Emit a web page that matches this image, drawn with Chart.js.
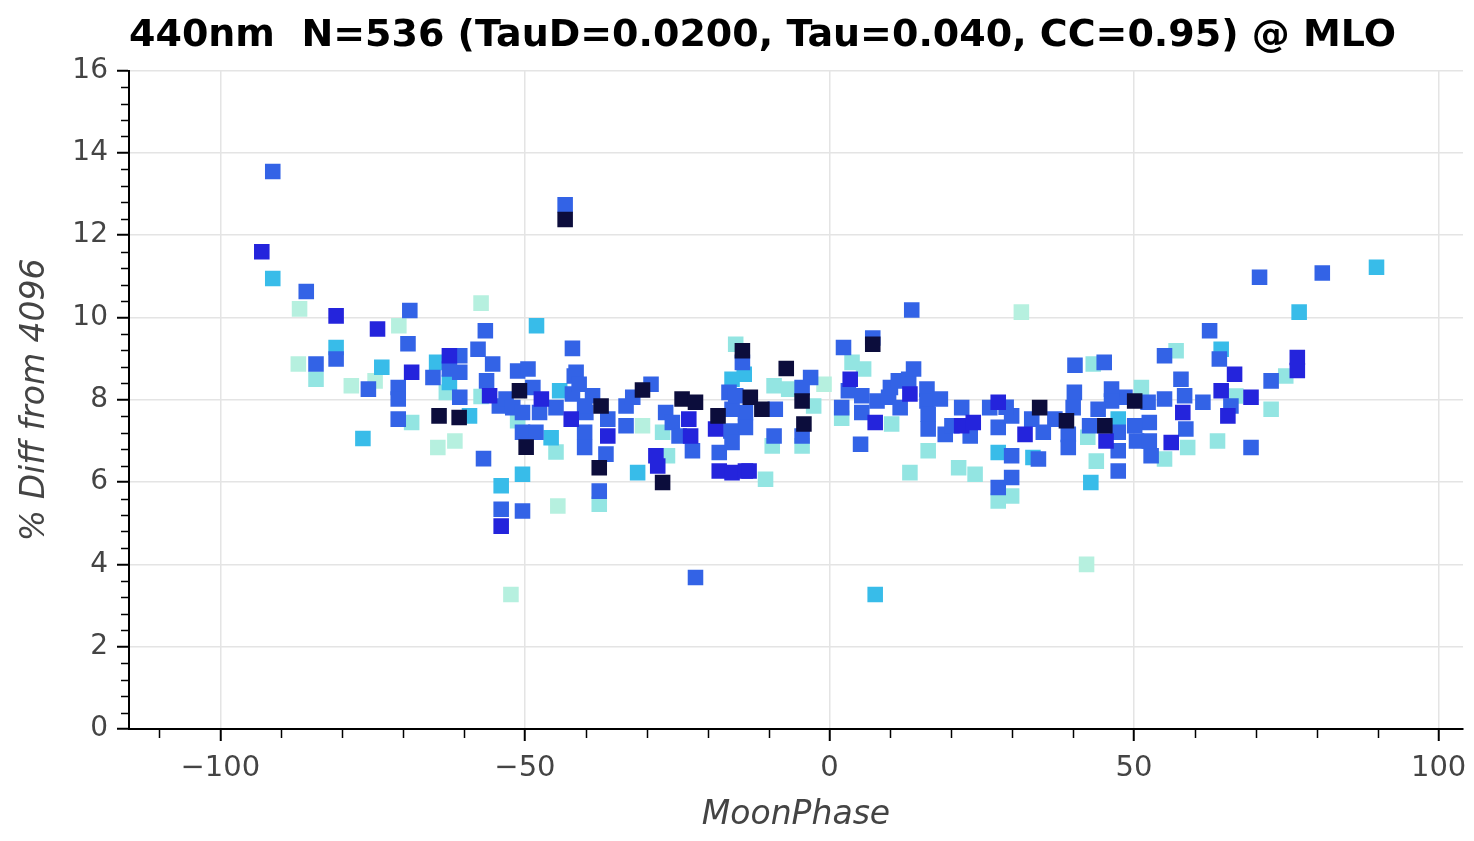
<!DOCTYPE html>
<html>
<head>
<meta charset="utf-8">
<script src="https://cdn.jsdelivr.net/npm/chart.js@4.4.1/dist/chart.umd.min.js"></script>
<style>
    html, body { margin: 0; padding: 0; background: #ffffff; }
    #caixa { width: 1474px; height: 841px; }
</style>
</head>
<body>
<div id="caixa"><canvas id="graficoLua"></canvas></div>
<script>
// Fase da lua (x) e diferença percentual (y) de cada medição
const moonPhase = [
    -91.4, -93.2, -91.4, -85.9, -87.0, -81.0, -74.2, -68.9, -70.7, -57.2,
    -56.5, -81.0, -81.0, -87.2, -84.3, -84.3, -78.5, -75.7, -74.6, -73.5,
    -69.2, -68.6, -70.8, -70.8, -70.8, -68.6, -76.6, -64.1, -60.8, -59.1,
    -64.3, -61.5, -56.8, -53.9, -53.9, -53.9, -52.3, -62.4, -60.7, -64.5,
    -65.1, -62.4, -62.4, -60.7, -62.9, -57.7, -55.3, -56.3, -55.8, -54.2,
    -48.1, -42.2, -60.7, -57.2, -51.2, -49.5, -50.9, -47.3, -48.7, -44.9,
    -44.3, -42.2, -42.4, -53.1, -52.0, -50.4, -47.6, -50.4, -48.2, -51.2,
    -49.8, -45.7, -44.9, -50.4, -50.4, -44.6, -41.6, -43.4, -43.4, -41.9,
    -41.1, -38.9, -37.5, -40.0, -36.4, -36.4, -40.2, -40.2, -36.7, -37.8,
    -37.8, -37.8, -33.4, -33.4, -30.7, -31.5, -30.7, -29.3, -32.3, -28.5,
    -28.2, -27.4, -26.6, -26.9, -25.8, -24.2, -22.0, -23.1, -22.8, -22.5,
    -24.7, -27.4, -22.0, -18.3, -18.7, -18.1, -18.1, -16.0, -13.8, -10.5,
    -16.5, -14.3, -15.4, -14.3, -14.0, -13.0, -11.1, -13.8, -13.8, -16.0,
    -9.1, -9.4, -16.0, -7.1, -9.1, -6.7, -4.5, -4.2, -3.1, -4.5,
    -2.6, -4.5, -4.5, -0.9, -8.9, -15.4, -16.2, -16.0, -13.2, -40.2,
    2.3, 7.1, 7.1, 3.7, 5.6, 3.4, 3.1, 5.3, 7.8, 2.0,
    2.0, 5.3, 7.5, 10.2, 5.1, 9.7, 10.0, 11.3, 11.6, 13.0,
    13.8, 13.2, 16.0, 16.0, 16.2, 16.2, 16.2, 18.2, 19.0, 20.1,
    21.7, 21.7, 23.6, 23.1, 21.2, 23.9, 13.2, 13.5, 26.3, 27.7,
    27.7, 27.7, 29.9, 27.7, 27.7, 29.9, 29.9, 29.9, 29.0, 31.5,
    62.4, 64.3, 64.0, 66.5, 55.0, 56.9, 40.3, 43.3, 45.1, 57.7,
    58.3, 55.0, 61.3, 64.3, 65.4, 58.0, 58.5, 58.8, 56.1, 52.8,
    55.0, 63.7, 50.1, 51.2, 52.3, 52.5, 50.1, 50.4, 52.5, 48.5,
    46.3, 46.3, 47.4, 47.4, 47.4, 47.4, 45.2, 45.4, 44.1, 42.7,
    42.4, 43.8, 42.9, 40.2, 40.0, 38.9, 39.2, 39.2, 37.0, 34.5,
    35.1, 33.4, 32.1, 33.2, 42.2, 70.6, 77.1, 76.8, 76.8, 74.9,
    72.5, 69.2, 72.5, 69.2, 80.9, 89.8, 66.7, 65.9, 7.5, 34.3
];

const pctDiff = [
    13.55, 11.60, 10.95, 10.63, 10.21, 10.04, 9.72, 10.17, 9.80, 10.35,
    9.68, 9.27, 8.99, 8.87, 8.87, 8.50, 8.34, 8.26, 8.46, 8.79,
    9.36, 8.67, 8.30, 8.02, 7.53, 7.45, 7.06, 7.61, 7.57, 7.61,
    6.84, 7.00, 6.57, 5.91, 5.34, 4.93, 3.27, 9.07, 9.07, 8.91,
    8.54, 8.75, 8.42, 8.06, 8.18, 9.23, 8.87, 8.46, 8.10, 7.85,
    9.80, 9.25, 8.67, 8.08, 8.70, 8.75, 8.22, 8.02, 8.30, 7.81,
    8.22, 8.14, 7.53, 8.02, 7.81, 7.69, 7.69, 7.21, 7.21, 7.49,
    6.85, 7.08, 6.73, 6.19, 5.30, 5.42, 8.67, 12.74, 12.38, 8.58,
    8.38, 8.10, 7.85, 7.69, 7.53, 7.12, 7.21, 6.84, 6.68, 6.35,
    5.78, 5.46, 7.85, 7.37, 7.37, 6.23, 8.24, 8.38, 8.06, 6.64,
    6.39, 5.99, 6.64, 7.69, 7.45, 8.02, 7.94, 7.53, 7.12, 6.76,
    7.12, 7.21, 3.68, 7.61, 7.29, 6.72, 6.27, 6.23, 6.27, 6.07,
    8.18, 9.19, 9.35, 8.91, 8.62, 8.06, 7.77, 7.69, 7.33, 7.77,
    7.12, 6.88, 8.50, 8.76, 8.34, 8.26, 7.97, 7.41, 8.54, 8.30,
    7.85, 7.12, 6.88, 8.38, 7.77, 8.10, 7.24, 6.96, 6.27, 7.85,
    9.27, 9.35, 9.50, 8.91, 8.75, 8.50, 8.22, 8.10, 7.97, 7.81,
    7.55, 7.69, 7.45, 7.41, 6.92, 8.06, 8.30, 8.46, 7.81, 8.50,
    8.75, 8.14, 8.26, 7.97, 7.65, 7.29, 6.76, 8.02, 7.16, 7.37,
    7.81, 7.37, 7.45, 7.12, 6.35, 6.19, 6.23, 10.18, 7.81, 7.94,
    7.33, 6.72, 6.64, 5.87, 5.54, 6.11, 5.66, 7.61, 7.82, 10.13,
    9.68, 9.23, 8.99, 8.62, 9.07, 9.19, 8.84, 8.87, 8.91, 8.50,
    8.10, 8.02, 7.94, 8.22, 7.61, 7.69, 7.29, 6.84, 6.96, 6.64,
    6.56, 7.00, 7.97, 8.30, 7.94, 7.45, 7.37, 7.00, 7.00, 8.06,
    8.26, 7.97, 7.53, 7.21, 6.76, 6.27, 7.37, 7.00, 7.77, 7.37,
    7.09, 6.51, 5.99, 8.18, 7.81, 7.49, 7.16, 6.84, 7.53, 7.81,
    7.21, 6.60, 7.16, 7.53, 4.00, 10.98, 10.13, 9.03, 8.71, 8.58,
    8.46, 8.06, 7.77, 6.84, 11.08, 11.22, 8.09, 7.85, 3.27, 6.56
];

// Faixa de cor de cada ponto (0 = claro ... 5 = escuro)
const colorLevel = [
    3, 4, 2, 3, 0, 4, 4, 3, 0, 0,
    3, 2, 3, 0, 3, 1, 0, 3, 0, 2,
    3, 4, 3, 3, 3, 1, 2, 5, 5, 2,
    0, 0, 3, 2, 3, 4, 0, 4, 3, 2,
    3, 3, 2, 3, 1, 3, 3, 3, 4, 3,
    2, 3, 3, 1, 3, 3, 5, 4, 3, 3,
    2, 3, 4, 3, 3, 3, 3, 3, 3, 1,
    5, 2, 1, 2, 3, 0, 3, 3, 5, 3,
    3, 3, 5, 3, 3, 4, 3, 3, 3, 5,
    3, 1, 3, 3, 0, 2, 5, 3, 3, 4,
    4, 5, 1, 3, 3, 5, 5, 4, 4, 3,
    3, 1, 3, 5, 4, 3, 4, 4, 4, 1,
    3, 5, 1, 3, 2, 5, 5, 3, 3, 3,
    3, 1, 2, 5, 1, 1, 5, 5, 3, 3,
    1, 3, 1, 0, 3, 3, 3, 3, 4, 3,
    3, 5, 3, 1, 1, 4, 3, 3, 3, 3,
    1, 3, 4, 1, 3, 3, 3, 3, 3, 3,
    3, 4, 3, 3, 3, 3, 1, 3, 3, 3,
    3, 4, 4, 3, 1, 1, 1, 3, 3, 4,
    3, 2, 3, 3, 1, 3, 1, 3, 3, 0,
    3, 2, 3, 4, 3, 1, 3, 1, 3, 3,
    3, 3, 3, 4, 4, 4, 3, 1, 4, 3,
    1, 1, 5, 1, 3, 3, 3, 3, 3, 3,
    3, 3, 2, 3, 3, 3, 5, 4, 3, 3,
    1, 1, 2, 3, 3, 5, 3, 3, 3, 5,
    3, 2, 4, 3, 0, 3, 2, 4, 4, 1,
    3, 4, 1, 3, 3, 2, 1, 3, 2, 3
];

const levelColors = ["#b6f0df", "#93e5e2", "#38bce9", "#3363e6", "#2424dc", "#0c0d3c"];

const xTicks = [-100, -50, 0, 50, 100];
const yTicks = [0, 2, 4, 6, 8, 10, 12, 14, 16];
const xMinor = [-110, -90, -80, -70, -60, -40, -30, -20, -10, 10, 20, 30, 40, 60, 70, 80, 90];
const yMinor = [];
for (let v = 0.4; v < 16; v += 0.4) {
    if (Math.abs(v / 2 - Math.round(v / 2)) > 0.01) yMinor.push(+v.toFixed(1));
}

const tituloGrafico = "440nm  N=536 (TauD=0.0200, Tau=0.040, CC=0.95) @ MLO";
const fonte = "'DejaVu Sans', sans-serif";

// claros primeiro, escuros por cima
const ordem = moonPhase.map((_, i) => i).sort((a, b) => colorLevel[a] - colorLevel[b]);
const pontos = ordem.map((i) => ({ x: moonPhase[i], y: pctDiff[i] }));
const cores = ordem.map((i) => levelColors[colorLevel[i]]);

const formatarTick = (v) => String(v).replace("-", "\u2212");

// marcas menores dos eixos
const marcasMenores = {
    id: "marcasMenores",
    afterDraw(chart) {
        const { ctx, scales } = chart;
        const x = scales.x;
        const y = scales.y;
        ctx.save();
        ctx.strokeStyle = "#000";
        ctx.lineWidth = 1.5;
        ctx.beginPath();
        xMinor.forEach((v) => {
            const px = Math.round(x.getPixelForValue(v)) + 0.5;
            ctx.moveTo(px, y.bottom);
            ctx.lineTo(px, y.bottom + 9);
        });
        yMinor.forEach((v) => {
            const py = Math.round(y.getPixelForValue(v)) + 0.5;
            ctx.moveTo(x.left, py);
            ctx.lineTo(x.left - 8, py);
        });
        ctx.stroke();
        ctx.restore();
    }
};

new Chart(document.getElementById("graficoLua"), {
    type: "scatter",
    data: {
        datasets: [
            {
                data: pontos,
                backgroundColor: cores,
                borderColor: cores,
                borderWidth: 0,
                pointStyle: "rect",
                pointRadius: 11,
                pointHoverRadius: 11
            }
        ]
    },
    options: {
        responsive: true,
        maintainAspectRatio: false,
        animation: false,
        devicePixelRatio: 1,
        layout: { padding: { left: 0, right: 9, top: 0, bottom: 0 } },
        plugins: {
            legend: { display: false },
            tooltip: { enabled: false },
            title: {
                display: true,
                text: tituloGrafico,
                align: "start",
                fullSize: false,
                color: "#000",
                font: { family: fonte, size: 38, weight: "bold" },
                padding: { top: 13, bottom: 12 }
            }
        },
        scales: {
            x: {
                type: "linear",
                min: -115,
                max: 104,
                afterBuildTicks: (scale) => {
                    scale.ticks = xTicks.map((v) => ({ value: v }));
                },
                afterFit: (scale) => {
                    scale.height = 112;
                    scale.paddingRight = 0;
                },
                ticks: {
                    color: "#444",
                    font: { family: fonte, size: 29 },
                    padding: 10,
                    maxRotation: 0,
                    autoSkip: false,
                    callback: formatarTick
                },
                grid: {
                    color: "#e4e4e4",
                    lineWidth: 1.5,
                    tickColor: "#000",
                    tickLength: 12,
                    tickWidth: 2
                },
                border: { color: "#000", width: 2 },
                title: {
                    display: true,
                    text: "MoonPhase",
                    color: "#444",
                    font: { family: fonte, size: 33, style: "italic" },
                    padding: { top: 0, bottom: 6 }
                }
            },
            y: {
                type: "linear",
                min: 0,
                max: 16,
                afterBuildTicks: (scale) => {
                    scale.ticks = yTicks.map((v) => ({ value: v }));
                },
                afterFit: (scale) => {
                    scale.width = 129;
                },
                ticks: {
                    color: "#444",
                    font: { family: fonte, size: 28 },
                    padding: 9,
                    callback: formatarTick
                },
                grid: {
                    color: "#e4e4e4",
                    lineWidth: 1.5,
                    tickColor: "#000",
                    tickLength: 12,
                    tickWidth: 2
                },
                border: { color: "#000", width: 2 },
                title: {
                    display: true,
                    text: "% Diff from 4096",
                    color: "#444",
                    font: { family: fonte, size: 33, style: "italic" },
                    padding: { top: 16, bottom: 0 }
                }
            }
        }
    },
    plugins: [marcasMenores]
});
</script>
</body>
</html>
